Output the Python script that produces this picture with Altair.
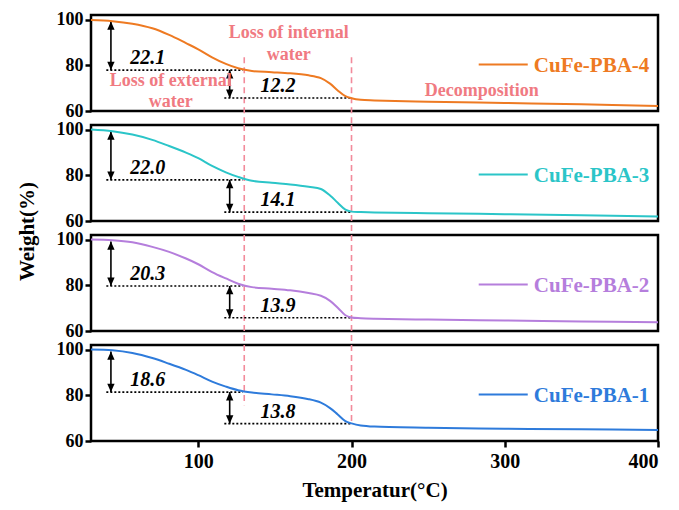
import altair as alt
import pandas as pd

# ---------------- data ----------------
temps = [30, 44, 57, 70, 81, 92, 100, 109, 118, 126, 135, 148, 160, 172, 180, 186, 191, 196, 200, 206, 215, 250, 300, 350, 400]
w_pba4 = [99.8, 99.3, 98.2, 96.2, 93.3, 89.7, 87.0, 83.5, 80.6, 78.7, 77.5, 77.0, 76.5, 75.6, 74.4, 72.0, 69.0, 66.5, 65.6, 64.9, 64.6, 64.0, 63.5, 62.9, 62.2]
w_pba3 = [100.0, 99.3, 97.8, 95.5, 92.8, 89.9, 87.5, 84.1, 81.3, 79.3, 77.6, 76.7, 76.0, 75.0, 74.0, 71.2, 68.0, 65.0, 64.1, 63.9, 63.7, 63.4, 63.0, 62.5, 62.0]
w_pba2 = [100.0, 99.7, 98.8, 96.8, 94.6, 91.7, 89.2, 85.8, 83.0, 80.7, 79.2, 78.5, 77.8, 76.6, 75.4, 73.2, 70.2, 66.9, 65.9, 65.6, 65.4, 65.0, 64.6, 64.2, 63.8]
w_pba1 = [100.0, 99.7, 98.5, 96.3, 93.8, 91.1, 88.8, 86.0, 83.8, 82.2, 81.2, 80.4, 79.6, 78.3, 76.8, 74.4, 71.6, 68.7, 67.7, 66.8, 66.3, 65.8, 65.4, 65.1, 64.8]

names = ["CuFe-PBA-4", "CuFe-PBA-3", "CuFe-PBA-2", "CuFe-PBA-1"]
series = [w_pba4, w_pba3, w_pba2, w_pba1]
colors = ["#EE7A22", "#2BC5C8", "#B57EDC", "#2E7BDB"]

drop1 = [22.1, 22.0, 20.3, 18.6]   # loss of external water
drop2 = [12.2, 14.1, 13.9, 13.8]   # loss of internal water
drop1_text = ["22.1", "22.0", "20.3", "18.6"]
drop2_text = ["12.2", "14.1", "13.9", "13.8"]

stage_labels = ["Loss of internal", "water", "Loss of external", "water", "Decomposition"]
stage_T = [159, 159, 82, 82, 285]
stage_W = [94.0, 84.6, 73.3, 64.0, 68.7]

x_ticks = [100, 200, 300, 400]
y_ticks = [60, 80, 100]

FONT = "Liberation Serif"
PINK = "#F07A82"
DASH_PINK = "#F28B9B"

xscale = alt.Scale(domain=[30, 400], nice=False, zero=False)
yscale = alt.Scale(domain=[60, 102], nice=False, zero=False)


def panel(i):
    bottom = i == 3
    xaxis = alt.Axis(values=x_ticks, title="Temperatur(°C)", labelPadding=4,
                     titlePadding=8, tickSize=6, labelFontSize=20) if bottom else None
    yaxis = alt.Axis(values=y_ticks, tickSize=6, labelPadding=2, labelFontSize=18,
                     title="Weight(%)" if i == 1 else None,
                     **({"titleX": -64, "titleY": 106, "titleAngle": 270,
                         "titleAlign": "center", "titleBaseline": "middle"} if i == 1 else {}))
    X = alt.X("T:Q", scale=xscale, axis=xaxis)
    Y = alt.Y("W:Q", scale=yscale, axis=yaxis)

    curve = alt.Chart(pd.DataFrame({"T": temps, "W": series[i]})).mark_line(
        color=colors[i], strokeWidth=2, interpolate="catmull-rom").encode(x=X, y=Y)

    L1 = round(100 - drop1[i], 2)
    L2 = round(L1 - drop2[i], 2)

    dotted = alt.Chart(pd.DataFrame({"T": [40, 117], "T2": [129, 200], "W": [L1, L2]})).mark_rule(
        color="black", strokeWidth=1.6, strokeDash=[2, 2]).encode(x=X, x2="T2:Q", y=Y)

    shafts = alt.Chart(pd.DataFrame({"T": [43, 120.5], "W": [99.2, L1], "W2": [L1, L2]})).mark_rule(
        color="black", strokeWidth=1.6).encode(x=X, y=Y, y2="W2:Q")

    up = "M0,0L-0.7,1.6L0.7,1.6Z"
    down = "M0,0L-0.7,-1.6L0.7,-1.6Z"
    heads_up = alt.Chart(pd.DataFrame({"T": [43, 120.5], "W": [99.2, L1]})).mark_point(
        shape=up, filled=True, size=110, color="black", opacity=1).encode(x=X, y=Y)
    heads_dn = alt.Chart(pd.DataFrame({"T": [43, 120.5], "W": [L1, L2]})).mark_point(
        shape=down, filled=True, size=110, color="black", opacity=1).encode(x=X, y=Y)

    nums = alt.Chart(pd.DataFrame({"T": [67, 152], "W": [L1, L2],
                                   "label": [drop1_text[i], drop2_text[i]]})).mark_text(
        font=FONT, fontSize=20, fontWeight="bold", fontStyle="italic", color="black",
        baseline="bottom", dy=-2).encode(x=X, y=Y, text="label:N")

    if i == 0:
        dtop = [83.5, 83.5]
        dbot = [53.9, 53.9]
    elif i == 3:
        dtop = [102, 102]
        dbot = [75.6, 67.7]
    else:
        dtop = [102, 102]
        dbot = [53.9, 53.9]
    dashed = alt.Chart(pd.DataFrame({"T": [130, 200], "W": dtop, "W2": dbot})).mark_rule(
        color=DASH_PINK, strokeWidth=1.6, strokeDash=[6, 4]).encode(x=X, y=Y, y2="W2:Q")

    leg_line = alt.Chart(pd.DataFrame({"T": [283], "T2": [315], "W": [80.3]})).mark_rule(
        color=colors[i], strokeWidth=2).encode(x=X, x2="T2:Q", y=Y)
    leg_text = alt.Chart(pd.DataFrame({"T": [319], "W": [79.9], "label": [names[i]]})).mark_text(
        font=FONT, fontSize=21, fontWeight="bold", color=colors[i], align="left",
        baseline="middle").encode(x=X, y=Y, text="label:N")

    layers = [dashed, dotted, shafts, heads_up, heads_dn, nums, leg_line, leg_text, curve]
    if i == 0:
        stage = alt.Chart(pd.DataFrame({"T": stage_T, "W": stage_W, "label": stage_labels})).mark_text(
            font=FONT, fontSize=18, fontWeight="bold", color=PINK, align="center",
            baseline="middle").encode(x=X, y=Y, text="label:N")
        layers.append(stage)
    return alt.layer(*layers).properties(width=567, height=96)


chart = alt.vconcat(*[panel(i) for i in range(4)], spacing=14, bounds="flush").properties(
    padding={"left": 14, "top": 9, "right": 5, "bottom": 5}
).configure_view(
    stroke="black", strokeWidth=2.5
).configure_axis(
    labelFont=FONT, labelFontSize=19, labelFontWeight="bold", labelColor="black",
    titleFont=FONT, titleFontSize=21, titleFontWeight="bold", titleColor="black",
    tickColor="black", tickWidth=2.5, domain=False, grid=False
)

chart.save("out.html", embed_options={"renderer": "svg", "actions": False})
